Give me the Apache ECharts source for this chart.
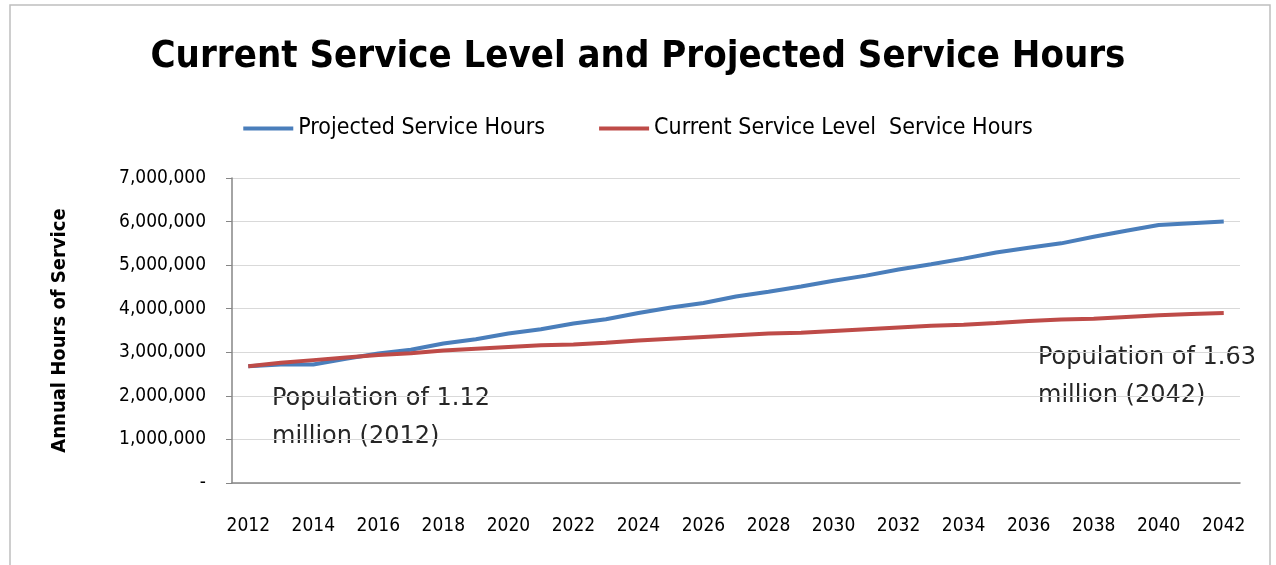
<!DOCTYPE html>
<html>
<head>
<meta charset="utf-8">
<script src="https://cdn.jsdelivr.net/npm/echarts@6/dist/echarts.min.js"></script>
<style>
  html, body { margin: 0; padding: 0; background: #fff; }
  #chart-box { width: 1276px; height: 565px; }
</style>
</head>
<body>
<div id="chart-box"></div>
<script>
var years = [];
for (var y = 2012; y <= 2042; y++) years.push(String(y));

// Projected Service Hours
var projected = [
    2680000, 2720000, 2720000, 2850000, 2970000, 3060000, 3200000, 3300000,
    3430000, 3530000, 3660000, 3760000, 3900000, 4030000, 4130000, 4280000,
    4390000, 4510000, 4640000, 4760000, 4900000, 5020000, 5150000, 5290000,
    5400000, 5500000, 5650000, 5790000, 5920000, 5960000, 6000000
];

// Current Service Level Service Hours
var current = [
    2680000, 2760000, 2820000, 2880000, 2940000, 2980000, 3040000, 3080000,
    3120000, 3160000, 3180000, 3220000, 3270000, 3310000, 3350000, 3390000,
    3430000, 3450000, 3490000, 3530000, 3570000, 3610000, 3630000, 3670000,
    3720000, 3750000, 3770000, 3810000, 3850000, 3880000, 3900000
];

var seriesNames = ['Projected Service Hours', 'Current Service Level  Service Hours'];
var notes = ['Population of 1.12\nmillion (2012)', 'Population of 1.63\nmillion (2042)'];

var font = '"DejaVu Sans Condensed", "Open Sans", sans-serif';
var noteFont = '"DejaVu Sans", sans-serif';

function fmt(v) {
    if (v == 0) return '-';
    return String(v).replace(/\B(?=(\d{3})+(?!\d))/g, ',');
}

var chart = echarts.init(document.getElementById('chart-box'));
var option = {
    animation: false,
    backgroundColor: '#fff',
    title: {
        text: 'Current Service Level and Projected Service Hours',
        left: 'center',
        top: 33,
        textStyle: { fontFamily: font, fontSize: 38, fontWeight: 'bold', color: '#000' }
    },
    legend: {
        top: 112,
        left: 'center',
        itemWidth: 50,
        itemHeight: 4,
        itemGap: 54,
        icon: 'rect',
        textStyle: { fontFamily: font, fontSize: 23, color: '#000' },
        data: seriesNames
    },
    grid: { left: 232, right: 36, top: 178, bottom: 82 },
    xAxis: {
        type: 'category',
        data: years,
        boundaryGap: true,
        axisLine: { lineStyle: { color: '#868686', width: 1.5 } },
        axisTick: { interval: 0, length: 6, lineStyle: { color: '#868686' } },
        axisLabel: { interval: 1, margin: 34, fontFamily: font, fontSize: 19, color: '#000' }
    },
    yAxis: {
        type: 'value',
        min: 0,
        max: 7000000,
        interval: 1000000,
        name: 'Annual Hours of Service',
        nameLocation: 'middle',
        nameGap: 162,
        nameRotate: 90,
        nameTextStyle: { fontFamily: font, fontSize: 20, fontWeight: 'bold', color: '#000' },
        axisLine: { show: true, lineStyle: { color: '#868686', width: 1.5 } },
        axisTick: { show: true, length: 6, lineStyle: { color: '#868686' } },
        splitLine: { lineStyle: { color: '#d9d9d9', width: 1 } },
        axisLabel: { margin: 26, fontFamily: font, fontSize: 19, color: '#000', formatter: fmt }
    },
    series: [
        {
            name: seriesNames[0],
            type: 'line',
            data: projected,
            symbol: 'none',
            z: 2,
            lineStyle: { color: '#4a7ebb', width: 4 },
            itemStyle: { color: '#4a7ebb' }
        },
        {
            name: seriesNames[1],
            type: 'line',
            data: current,
            symbol: 'none',
            z: 3,
            lineStyle: { color: '#be4b48', width: 4 },
            itemStyle: { color: '#be4b48' }
        }
    ],
    graphic: [
        {
            type: 'rect',
            shape: { x: 10, y: 5, width: 1260, height: 565 },
            style: { fill: 'none', stroke: '#bfbfbf', lineWidth: 1.5 },
            silent: true
        },
        {
            type: 'text',
            left: 272,
            top: 380,
            style: { text: notes[0], fontFamily: noteFont, fontSize: 24, lineHeight: 38, fill: '#262626' }
        },
        {
            type: 'text',
            left: 1038,
            top: 339,
            style: { text: notes[1], fontFamily: noteFont, fontSize: 24, lineHeight: 38, fill: '#262626' }
        }
    ]
};
chart.setOption(option);
</script>
</body>
</html>
